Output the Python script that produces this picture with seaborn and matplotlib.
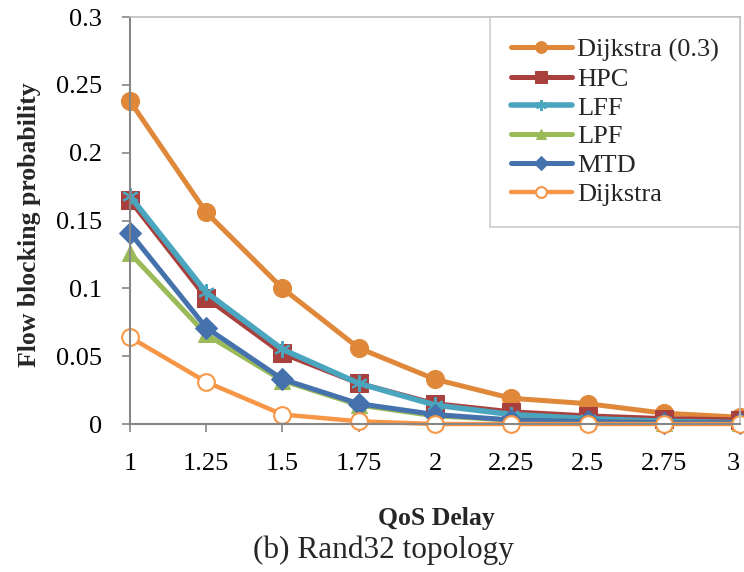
import pandas as pd
import seaborn as sns
import matplotlib.pyplot as plt

# values
qos_delay = [1, 1.25, 1.5, 1.75, 2, 2.25, 2.5, 2.75, 3]
dijkstra_03 = [0.238, 0.156, 0.100, 0.056, 0.033, 0.019, 0.015, 0.008, 0.005]
hpc = [0.165, 0.093, 0.052, 0.030, 0.015, 0.009, 0.006, 0.004, 0.003]
lff = [0.168, 0.097, 0.055, 0.030, 0.014, 0.007, 0.004, 0.002, 0.001]
lpf = [0.126, 0.066, 0.032, 0.014, 0.006, 0.003, 0.002, 0.001, 0.001]
mtd = [0.141, 0.071, 0.033, 0.015, 0.007, 0.003, 0.002, 0.001, 0.001]
dijkstra = [0.064, 0.031, 0.007, 0.002, 0.0, 0.0, 0.0, 0.0, 0.0]

series_names = ['Dijkstra (0.3)', 'HPC', 'LFF', 'LPF', 'MTD', 'Dijkstra']
series_values = [dijkstra_03, hpc, lff, lpf, mtd, dijkstra]
colors = ['#E0883A', '#A8403D', '#4AA5BE', '#9BBB59', '#4572AD', '#F79646']
markers = ['o', 's', (6, 2, 0), '^', 'D', 'o']
marker_sizes = [13, 13, 12, 11, 11, 12]

df = pd.DataFrame({
    'QoS Delay': qos_delay * len(series_names),
    'prob': [v for vals in series_values for v in vals],
    'Algorithm': [n for n in series_names for _ in qos_delay],
})

sns.set_theme(style="white")
plt.rcParams['font.family'] = ['Liberation Serif', 'DejaVu Serif']

fig = plt.figure(figsize=(7.44, 5.72), dpi=100)
ax = fig.add_axes([0.1747, 0.2587, 0.82, 0.7115])

# one call per series so each can keep its own marker
for name, c, m, ms in zip(series_names, colors, markers, marker_sizes):
    sns.lineplot(
        data=df[df['Algorithm'] == name], x='QoS Delay', y='prob',
        color=c, marker=m, markersize=ms, markeredgecolor=c,
        linewidth=3.6, clip_on=False, ax=ax,
    )

# open circle for plain Dijkstra
ax.lines[5].set_markerfacecolor('white')
ax.lines[5].set_markeredgewidth(1.5)
ax.lines[5].set_linewidth(3.2)
ax.lines[2].set_markeredgewidth(1.5)
ax.lines[2].set_linewidth(4)

ax.set_xlim(1, 3)
ax.set_ylim(0, 0.3)
ax.set_xticks(qos_delay)
ax.set_xticklabels(['1', '1.25', '1.5', '1.75', '2', '2.25', '2.5', '2.75', '3'])
ax.set_yticks([0, 0.05, 0.1, 0.15, 0.2, 0.25, 0.3])
ax.set_yticklabels(['0', '0.05', '0.1', '0.15', '0.2', '0.25', '0.3'])
ax.tick_params(axis='both', labelsize=19, colors='#868686', labelcolor='black',
               direction='out', length=6, width=1.2, bottom=True, left=True)
ax.tick_params(axis='x', pad=15)
ax.tick_params(axis='y', pad=14)
# last x label sits at the figure edge, keep it inside
ax.get_xticklabels()[-1].set_horizontalalignment('right')

for side in ['left', 'bottom']:
    ax.spines[side].set_color('#868686')
    ax.spines[side].set_linewidth(1.5)
for side in ['top', 'right']:
    ax.spines[side].set_color('#BFBFBF')
    ax.spines[side].set_linewidth(1.2)

ax.set_xlabel('QoS Delay', fontsize=18.5, fontweight='bold')
ax.xaxis.set_label_coords(0.502, -0.204)
ax.set_ylabel('Flow blocking probability', fontsize=18.5, fontweight='bold')
ax.yaxis.set_label_coords(-0.146, 0.491)

leg = ax.legend(handles=ax.lines[:6], labels=series_names, loc='upper right',
                bbox_to_anchor=(1.0, 1.0), fontsize=19, frameon=True, fancybox=False,
                markerscale=0.65, handlelength=2.3, handletextpad=0.2,
                labelspacing=0.2, borderpad=0.8, borderaxespad=0)
leg.get_frame().set_edgecolor('#BFBFBF')
leg.get_frame().set_linewidth(1.2)

fig.text(0.515, 0.038, '(b) Rand32 topology', ha='center', va='center', fontsize=22.5)

plt.savefig('out.png', dpi=100)
